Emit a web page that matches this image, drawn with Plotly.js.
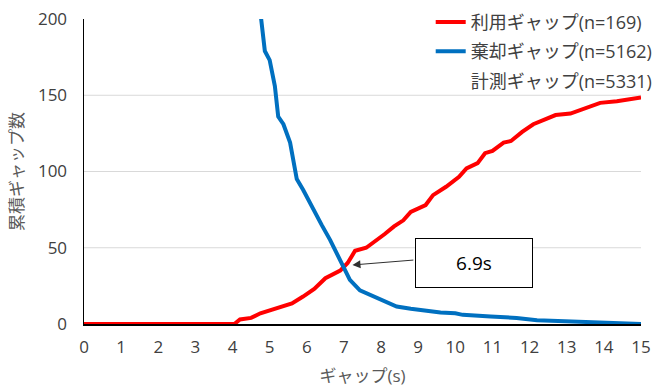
<!DOCTYPE html>
<html><head><meta charset="utf-8">
<script src="https://cdn.plot.ly/plotly-3.0.1.min.js"></script>
<style>html,body{margin:0;padding:0;background:#fff}#c{width:654px;height:387px}</style>
</head><body><div id="c"></div>
<script>
const usedX = [0, 4.05, 4.2, 4.5, 4.75, 5.0, 5.3, 5.6, 5.9, 6.2, 6.5, 6.9, 7.1, 7.3, 7.6, 7.9, 8.1, 8.35, 8.6, 8.8, 9.2, 9.4, 9.75, 10.1, 10.3, 10.6, 10.8, 11.0, 11.3, 11.5, 11.8, 12.1, 12.55, 12.7, 13.1, 13.45, 13.9, 14.35, 14.8, 15.0];
const usedY = [0, 0, 3, 4, 7, 9, 11, 13.5, 18, 23, 30, 35, 40, 48, 50, 55, 59, 64, 68, 73.5, 78, 84.5, 90, 96.5, 102, 105.5, 112, 113.5, 119, 120, 126, 131, 135, 137, 138, 141, 145, 146, 147.5, 148.5];
const rejX = [4.7, 4.78, 4.87, 5.0, 5.14, 5.23, 5.37, 5.55, 5.65, 5.73, 5.9, 6.13, 6.4, 6.63, 6.85, 6.98, 7.16, 7.43, 7.79, 8.15, 8.42, 8.8, 9.14, 9.6, 10.0, 10.2, 10.95, 11.65, 12.2, 12.9, 13.5, 14.0, 15.0];
const rejY = [215, 200, 179, 173, 156, 136, 131, 119, 106, 95, 88, 77, 65, 55, 44, 38, 29, 22, 18, 14, 11.5, 10, 9, 7.5, 7, 6, 5, 4, 2.5, 2, 1.2, 0.6, 0];
const measuredX = [null];
const measuredY = [null];
const seriesNames = ['利用ギャップ(n=169)', '棄却ギャップ(n=5162)', '計測ギャップ(n=5331)'];
const xTicks = [0,1,2,3,4,5,6,7,8,9,10,11,12,13,14,15];
const yTicks = [0,50,100,150,200];
const gridVals = [50,100,150];
const crossLabel = '6.9s';
const crossPoint = [7.23, 38.7];
const labelPos = [10.5, 40];
const arrowTail = [8.91, 42];

const FONT = 'Open Sans, Noto Sans CJK JP, sans-serif';
const traces = [
  {x: usedX, y: usedY, name: seriesNames[0], legendgroup: 'a', mode: 'lines', line: {color: '#FF0000', width: 4}},
  {x: rejX, y: rejY, name: seriesNames[1], legendgroup: 'b', mode: 'lines', line: {color: '#0070C0', width: 4}},
  {x: measuredX, y: measuredY, name: seriesNames[2], legendgroup: 'c', mode: 'lines', line: {color: 'rgba(0,0,0,0)', width: 4}, showlegend: true}
];
const shapes = gridVals.map(v => ({type: 'line', xref: 'paper', yref: 'y', x0: 0, x1: 1, y0: v, y1: v, line: {color: '#D9D9D9', width: 1}, layer: 'below'}));
const layout = {
  width: 654, height: 387,
  margin: {l: 84, r: 13, t: 19, b: 63, autoexpand: false},
  paper_bgcolor: '#fff', plot_bgcolor: '#fff',
  font: {family: FONT, size: 16, color: '#404040'},
  showlegend: true,
  legend: {x: 1.03, xanchor: 'right', y: 1.05, yanchor: 'top', traceorder: 'grouped', tracegroupgap: 3, itemwidth: 30, bgcolor: 'rgba(0,0,0,0)', font: {size: 18, color: '#404040'}},
  xaxis: {range: [0, 15], tickvals: xTicks, showgrid: false, zeroline: false, showline: true, linecolor: '#000', linewidth: 1.5, ticks: 'outside', ticklen: 7, tickcolor: 'rgba(0,0,0,0)', tickfont: {size: 17}, title: {text: 'ギャップ(s)', font: {size: 17, color: '#595959'}, standoff: 13}},
  yaxis: {range: [0, 200], tickvals: yTicks, showgrid: false, zeroline: false, showline: true, linecolor: '#000', linewidth: 1.5, ticks: 'outside', ticklen: 12, tickcolor: 'rgba(0,0,0,0)', tickfont: {size: 17}, title: {text: '累積ギャップ数', font: {size: 17, color: '#595959'}, standoff: 10}},
  shapes: shapes,
  annotations: [
    {x: labelPos[0], y: labelPos[1], xref: 'x', yref: 'y', text: crossLabel, showarrow: false, width: 114, height: 46, bordercolor: '#000', borderwidth: 1, borderpad: 1, bgcolor: '#fff', font: {size: 19, color: '#000'}},
    {x: crossPoint[0], y: crossPoint[1], xref: 'x', yref: 'y', ax: arrowTail[0], ay: arrowTail[1], axref: 'x', ayref: 'y', text: '', showarrow: true, arrowhead: 2, arrowsize: 1.6, arrowwidth: 1, arrowcolor: '#303030'}
  ]
};
Plotly.newPlot('c', traces, layout, {displayModeBar: false, staticPlot: true});
</script></body></html>
